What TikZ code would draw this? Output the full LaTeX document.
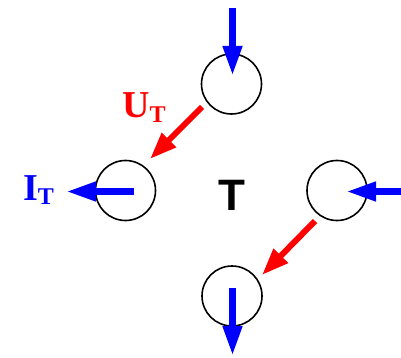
\documentclass[tikz,border=0pt]{standalone}
\usepackage{fontspec}
\setmainfont{Liberation Serif}
\setsansfont{Liberation Sans}
\usetikzlibrary{arrows.meta}
\begin{document}
\begin{tikzpicture}[x=1pt,y=-1pt,
  ring/.style={circle,draw=black,line width=1.6pt,minimum size=60pt,inner sep=0pt},
  blu/.style={draw=blue,line width=7pt,-{Triangle[length=30pt,width=18pt]}},
  rd/.style={draw=red,line width=6pt,-{Triangle[length=27pt,width=19pt]}},
  lab/.style={inner sep=0pt,font=\bfseries\fontsize{38}{40}\selectfont}]
\useasboundingbox (0,0) rectangle (401,358);
\node[ring] (top) at (231.5,84) {};
\node[ring] (left) at (125.5,190.5) {};
\node[ring] (right) at (337,190.5) {};
\node[ring] (bot) at (232,296) {};
\node[font=\sffamily\bfseries\fontsize{44}{44}\selectfont,inner sep=0pt,anchor=base] (T) at (232,210) {T};
% blue arrows
\coordinate (t1) at (232.5,8);   \coordinate (t2) at (232.5,76);
\coordinate (l1) at (134,191.5); \coordinate (l2) at (66,191.5);
\coordinate (r1) at (401,191.5); \coordinate (r2) at (346,191.5);
\coordinate (b1) at (232.5,288); \coordinate (b2) at (232.5,356);
\draw[blu] (t1) -- (t2);
\draw[blu] (l1) -- (l2);
\draw[blu] (r1) -- (r2);
\draw[blu] (b1) -- (b2);
% red arrows
\coordinate (u1) at (202,107); \coordinate (u2) at (150,159);
\coordinate (v1) at (315,221); \coordinate (v2) at (262,275);
\draw[rd] (u1) -- (u2);
\draw[rd] (v1) -- (v2);
% labels
\node[lab,text=red,anchor=base west] (UT) at (122,118) {U\raisebox{-5pt}{\fontsize{24}{24}\selectfont T}};
\node[lab,text=blue,anchor=base west] (IT) at (23,200) {I\raisebox{-5pt}{\fontsize{24}{24}\selectfont T}};
\end{tikzpicture}
\end{document}
